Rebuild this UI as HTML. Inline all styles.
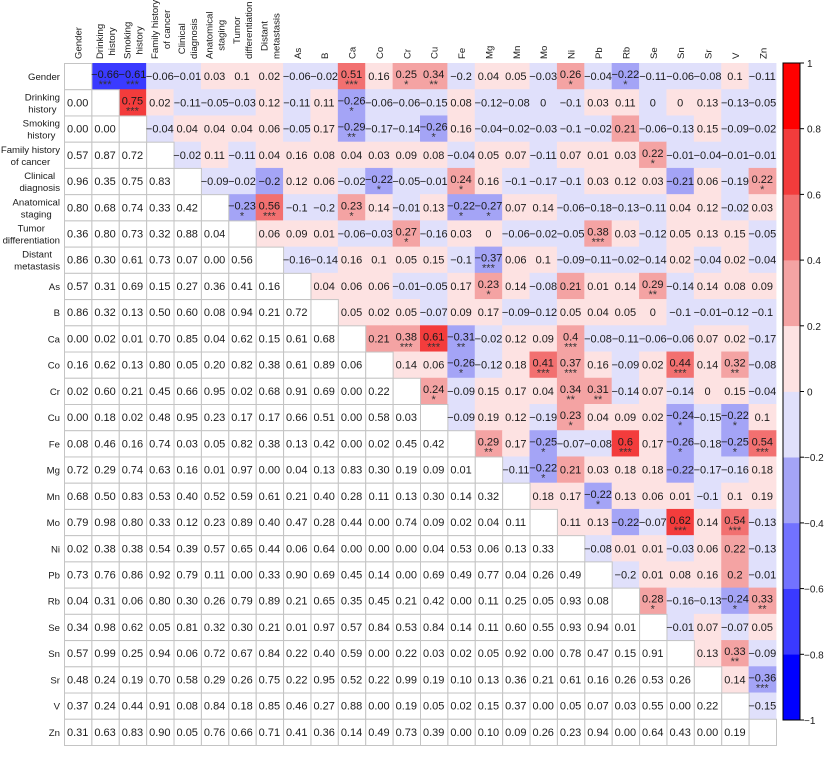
<!DOCTYPE html>
<html><head><meta charset="utf-8">
<style>
html,body{margin:0;padding:0;background:#fff;}
svg{display:block;font-family:"Liberation Sans",Arial,sans-serif;}
</style></head>
<body>
<svg id="chart" width="825" height="776" viewBox="0 0 825 776" xmlns="http://www.w3.org/2000/svg"></svg>
<script>
const labels = [["Gender"],["Drinking","history"],["Smoking","history"],["Family history","of cancer"],["Clinical","diagnosis"],["Anatomical","staging"],["Tumor","differentiation"],["Distant","metastasis"],["As"],["B"],["Ca"],["Co"],["Cr"],["Cu"],["Fe"],["Mg"],["Mn"],["Mo"],["Ni"],["Pb"],["Rb"],["Se"],["Sn"],["Sr"],["V"],["Zn"]];
// upper triangle correlation coefficients, row i, columns i+1..25
const rUpper = [
[-0.66,-0.61,-0.06,-0.01,0.03,0.1,0.02,-0.06,-0.02,0.51,0.16,0.25,0.34,-0.199,0.04,0.05,-0.03,0.26,-0.04,-0.22,-0.11,-0.06,-0.08,0.1,-0.11],
[0.75,0.02,-0.11,-0.05,-0.03,0.12,-0.11,0.11,-0.26,-0.06,-0.06,-0.15,0.08,-0.12,-0.08,-0.001,-0.1,0.03,0.11,-0.001,0.001,0.13,-0.13,-0.05],
[-0.04,0.04,0.04,0.04,0.06,-0.05,0.17,-0.29,-0.17,-0.14,-0.26,0.16,-0.04,-0.02,-0.03,-0.1,-0.02,0.21,-0.06,-0.13,0.15,-0.09,-0.02],
[-0.02,0.11,-0.11,0.04,0.16,0.08,0.04,0.03,0.09,0.08,-0.04,0.05,0.07,-0.11,0.07,0.01,0.03,0.22,-0.01,-0.04,-0.01,-0.01],
[-0.09,-0.02,-0.201,0.12,0.06,-0.02,-0.22,-0.05,-0.01,0.24,0.16,-0.1,-0.17,-0.1,0.03,0.12,0.03,-0.21,0.06,-0.19,0.22],
[-0.23,0.56,-0.1,-0.199,0.23,0.14,-0.01,0.13,-0.22,-0.27,0.07,0.14,-0.06,-0.18,-0.13,-0.11,0.04,0.12,-0.02,0.03],
[0.06,0.09,0.01,-0.06,-0.03,0.27,-0.16,0.03,0.001,-0.06,-0.02,-0.05,0.38,0.03,-0.12,0.05,0.13,0.15,-0.05],
[-0.16,-0.14,0.16,0.1,0.05,0.15,-0.1,-0.37,0.06,0.1,-0.09,-0.11,-0.02,-0.14,0.02,-0.04,0.02,-0.04],
[0.04,0.06,0.06,-0.01,-0.05,0.17,0.23,0.14,-0.08,0.21,0.01,0.14,0.29,-0.14,0.14,0.08,0.09],
[0.05,0.02,0.05,-0.07,0.09,0.17,-0.09,-0.12,0.05,0.04,0.05,0.001,-0.1,-0.01,-0.12,-0.1],
[0.21,0.38,0.61,-0.31,-0.02,0.12,0.09,0.4,-0.08,-0.11,-0.06,-0.06,0.07,0.02,-0.17],
[0.14,0.06,-0.26,-0.12,0.18,0.41,0.37,0.16,-0.09,0.02,0.44,0.14,0.32,-0.08],
[0.24,-0.09,0.15,0.17,0.04,0.34,0.31,-0.14,0.07,-0.14,0.001,0.15,-0.04],
[-0.09,0.19,0.12,-0.19,0.23,0.04,0.09,0.02,-0.24,-0.15,-0.22,0.1],
[0.29,0.17,-0.25,-0.07,-0.08,0.6,0.17,-0.26,-0.18,-0.25,0.54],
[-0.11,-0.22,0.21,0.03,0.18,0.18,-0.22,-0.17,-0.16,0.18],
[0.18,0.17,-0.22,0.13,0.06,0.01,-0.1,0.1,0.19],
[0.11,0.13,-0.22,-0.07,0.62,0.14,0.54,-0.13],
[-0.08,0.01,0.01,-0.03,0.06,0.22,-0.13],
[-0.199,0.01,0.08,0.16,0.201,-0.01],
[0.28,-0.16,-0.13,-0.24,0.33],
[-0.01,0.07,-0.07,0.05],
[0.13,0.33,-0.09],
[0.14,-0.36],
[-0.15]
];
// significance stars: [row, col, count]
const stars = [[0,1,3],[0,2,3],[0,10,3],[0,12,1],[0,13,2],[0,18,1],[0,20,1],[1,2,3],[1,10,1],[2,10,2],[2,13,1],[3,21,1],[4,11,1],[4,14,1],[4,25,1],[5,6,1],[5,7,3],[5,10,1],[5,14,1],[5,15,1],[6,12,1],[6,19,3],[7,15,3],[8,15,1],[8,21,2],[10,12,3],[10,13,3],[10,14,2],[10,18,3],[11,14,1],[11,17,3],[11,18,3],[11,22,3],[11,24,2],[12,13,1],[12,18,2],[12,19,2],[13,18,1],[13,22,1],[13,24,1],[14,15,2],[14,17,1],[14,20,3],[14,22,1],[14,24,1],[14,25,3],[15,17,1],[16,19,1],[17,22,3],[17,24,3],[20,21,1],[20,24,1],[20,25,2],[22,24,2],[23,25,3]];
// lower triangle p-values, row i, columns 0..i-1
const pLower = [
[],
[0.00],
[0.00,0.00],
[0.57,0.87,0.72],
[0.96,0.35,0.75,0.83],
[0.80,0.68,0.74,0.33,0.42],
[0.36,0.80,0.73,0.32,0.88,0.04],
[0.86,0.30,0.61,0.73,0.07,0.00,0.56],
[0.57,0.31,0.69,0.15,0.27,0.36,0.41,0.16],
[0.86,0.32,0.13,0.50,0.60,0.08,0.94,0.21,0.72],
[0.00,0.02,0.01,0.70,0.85,0.04,0.62,0.15,0.61,0.68],
[0.16,0.62,0.13,0.80,0.05,0.20,0.82,0.38,0.61,0.89,0.06],
[0.02,0.60,0.21,0.45,0.66,0.95,0.02,0.68,0.91,0.69,0.00,0.22],
[0.00,0.18,0.02,0.48,0.95,0.23,0.17,0.17,0.66,0.51,0.00,0.58,0.03],
[0.08,0.46,0.16,0.74,0.03,0.05,0.82,0.38,0.13,0.42,0.00,0.02,0.45,0.42],
[0.72,0.29,0.74,0.63,0.16,0.01,0.97,0.00,0.04,0.13,0.83,0.30,0.19,0.09,0.01],
[0.68,0.50,0.83,0.53,0.40,0.52,0.59,0.61,0.21,0.40,0.28,0.11,0.13,0.30,0.14,0.32],
[0.79,0.98,0.80,0.33,0.12,0.23,0.89,0.40,0.47,0.28,0.44,0.00,0.74,0.09,0.02,0.04,0.11],
[0.02,0.38,0.38,0.54,0.39,0.57,0.65,0.44,0.06,0.64,0.00,0.00,0.00,0.04,0.53,0.06,0.13,0.33],
[0.73,0.76,0.86,0.92,0.79,0.11,0.00,0.33,0.90,0.69,0.45,0.14,0.00,0.69,0.49,0.77,0.04,0.26,0.49],
[0.04,0.31,0.06,0.80,0.30,0.26,0.79,0.89,0.21,0.65,0.35,0.45,0.21,0.42,0.00,0.11,0.25,0.05,0.93,0.08],
[0.34,0.98,0.62,0.05,0.81,0.32,0.30,0.21,0.01,0.97,0.57,0.84,0.53,0.84,0.14,0.11,0.60,0.55,0.93,0.94,0.01],
[0.57,0.99,0.25,0.94,0.06,0.72,0.67,0.84,0.22,0.40,0.59,0.00,0.22,0.03,0.02,0.05,0.92,0.00,0.78,0.47,0.15,0.91],
[0.48,0.24,0.19,0.70,0.58,0.29,0.26,0.75,0.22,0.95,0.52,0.22,0.99,0.19,0.10,0.13,0.36,0.21,0.61,0.16,0.26,0.53,0.26],
[0.37,0.24,0.44,0.91,0.08,0.84,0.18,0.85,0.46,0.27,0.88,0.00,0.19,0.05,0.02,0.15,0.37,0.00,0.05,0.07,0.03,0.55,0.00,0.22],
[0.31,0.63,0.83,0.90,0.05,0.76,0.66,0.71,0.41,0.36,0.14,0.49,0.73,0.39,0.00,0.10,0.09,0.26,0.23,0.94,0.00,0.64,0.43,0.00,0.19]
];
const colorbarTicks = [1,0.8,0.6,0.4,0.2,0,-0.2,-0.4,-0.6,-0.8,-1];
const binColors = ["#0000ff","#3a3aff","#7272ff","#a4a4f6","#e0e0fb","#fde2e2","#f4a3a3","#f27070","#f33c3c","#ff0000"];

const NS="http://www.w3.org/2000/svg";
const svg=document.getElementById('chart');
const N=labels.length, X0=64, Y0=63, CW=712/N, CH=682/N;
function xPos(j){return X0+j*CW;}
function yPos(i){return Y0+i*CH;}
function mk(tag,attrs,parent){const e=document.createElementNS(NS,tag);for(const k in attrs)e.setAttribute(k,attrs[k]);(parent||svg).appendChild(e);return e;}
function colorFor(v){let b=Math.floor((v+1)/0.2);if(b<0)b=0;if(b>9)b=9;return binColors[b];}
function fmt(v){const s=String(Number(v.toFixed(2)));return s.replace('-','\u2212');}

const starMap={};
stars.forEach(s=>{starMap[s[0]+','+s[1]]=s[2];});

const gCells=mk('g',{});


const gText=mk('g',{'font-size':'11','text-anchor':'middle'});


const gGrid=mk('g',{fill:'#fff',stroke:'#c4c4c4','stroke-width':'1'});



rUpper.forEach((row,i)=>{
  row.forEach((v,k)=>{
    const j=i+1+k;
    const r=mk('rect',{x:xPos(j),y:yPos(i),width:CW+0.4,height:CH+0.4,fill:colorFor(v)},gCells);
    
    
    const cx=xPos(j)+CW/2, cy=yPos(i)+CH/2;
    const st=starMap[i+','+j]||0;
    const t=mk('text',{x:cx,y:cy+(st?2:4),fill:'#1a1a1a'},gText);
    t.textContent=fmt(v);
    
    
    if(st){
      const s=mk('text',{x:cx,y:cy+12,fill:'#333','font-size':'11'},gText);
      s.textContent='*'.repeat(st);
      
      
    }
  });
});
for(let i=0;i<N;i++){
  for(let j=0;j<=i;j++){
    const r=mk('rect',{x:xPos(j)+0.5,y:yPos(i)+0.5,width:CW,height:CH},gGrid);
    
    
  }
}
svg.appendChild(gText);
pLower.forEach((row,i)=>{
  row.forEach((p,j)=>{
    const t=mk('text',{x:xPos(j)+CW/2,y:yPos(i)+CH/2+4,fill:'#1a1a1a'},gText);
    t.textContent=p.toFixed(2);
    
    
  });
});

const gRow=mk('g',{'font-size':'9.6',fill:'#1a1a1a'});


labels.forEach((lines,i)=>{
  const cy=yPos(i)+CH/2;
  const tmp=[];
  let maxW=0;
  lines.forEach((ln,k)=>{
    const t=mk('text',{'text-anchor':'middle'},gRow);
    t.textContent=ln;
    
    
    tmp.push(t);
    maxW=Math.max(maxW,t.getComputedTextLength());
  });
  const cx=60-maxW/2;
  tmp.forEach((t,k)=>{
    const off=lines.length===1?4:(k===0?-2:10);
    t.setAttribute('x',cx);
    t.setAttribute('y',cy+off);
  });
});
const gCol=mk('g',{'font-size':'9.6',fill:'#1a1a1a'});


labels.forEach((lines,j)=>{
  const cx=xPos(j)+CW/2;
  const tmp=[];let maxW=0;
  lines.forEach(ln=>{
    const t=mk('text',{'text-anchor':'middle'},gCol);
    t.textContent=ln;
    
    
    tmp.push(t);maxW=Math.max(maxW,t.getComputedTextLength());
  });
  const cyc=59-maxW/2;
  tmp.forEach((t,k)=>{
    const off=lines.length===1?4:(k===0?-2:10);
    const bx=cx+off;
    t.setAttribute('transform','translate('+bx+','+cyc+') rotate(-90)');
  });
});

const CB_X=783, CB_W=17, CB_TOP=63, CB_BOT=720;
function cbY(v){return CB_TOP+(1-v)/2*(CB_BOT-CB_TOP);}
const gCb=mk('g',{});


binColors.forEach((c,b)=>{
  const lo=-1+b*0.2, hi=lo+0.2;
  const r=mk('rect',{x:CB_X,y:cbY(hi),width:CB_W,height:cbY(lo)-cbY(hi)+0.3,fill:c},gCb);
  
  
});
const fr=mk('rect',{x:CB_X,y:CB_TOP,width:CB_W,height:CB_BOT-CB_TOP,fill:'none',stroke:'#000','stroke-width':'1'},gCb);


colorbarTicks.forEach(v=>{
  const y=cbY(v);
  const l=mk('line',{x1:CB_X+CB_W,x2:CB_X+CB_W+4,y1:y,y2:y,stroke:'#000','stroke-width':'1'},gCb);
  
  
  const t=mk('text',{x:CB_X+CB_W+(v<0?4:7),y:y+4,'font-size':'10',fill:'#1a1a1a'},gCb);
  t.textContent=String(v).replace('-','\u2212');
  
  
});
</script>
</body></html>
